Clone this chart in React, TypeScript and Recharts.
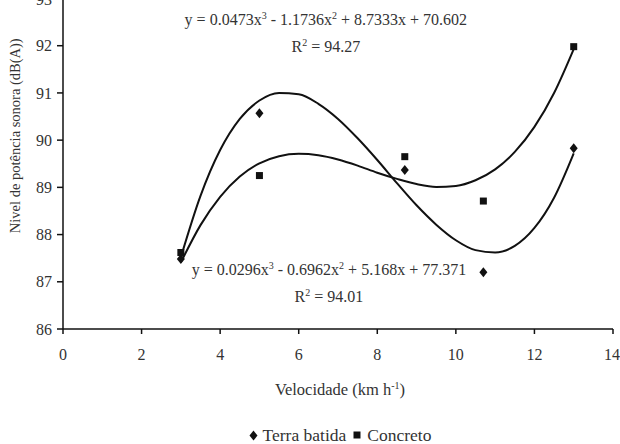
import React from "react";
import {
  ComposedChart,
  Line,
  Scatter,
  XAxis,
  YAxis,
  Legend,
  Label,
  ReferenceDot,
} from "recharts";

// velocidade (km h-1) x nível de potência sonora (dB(A))
const speed = [3, 5, 8.7, 10.7, 13];
const terraBatida = [87.48, 90.57, 89.37, 87.2, 89.83];
const concreto = [87.62, 89.25, 89.65, 88.71, 91.98];

// trend curves
const curveX = [3, 3.5, 4, 4.5, 5, 5.5, 6, 6.5, 7, 7.5, 8, 8.5, 9, 9.5, 10, 10.5, 11, 11.5, 12, 12.5, 13];
const terraFit = [87.52, 88.82, 89.79, 90.45, 90.84, 91.0, 90.97, 90.77, 90.45, 90.04, 89.58, 89.09, 88.62, 88.21, 87.88, 87.67, 87.62, 87.76, 88.14, 88.78, 89.72];
const concretoFit = [87.41, 88.2, 88.8, 89.23, 89.51, 89.66, 89.71, 89.68, 89.59, 89.46, 89.31, 89.18, 89.07, 89.01, 89.03, 89.15, 89.38, 89.75, 90.28, 91.0, 91.93];

const xTicks = [0, 2, 4, 6, 8, 10, 12, 14];
const yTicks = [86, 87, 88, 89, 90, 91, 92, 93];

const terraEq = ["y = 0.0473x", "3", " - 1.1736x", "2", " + 8.7333x + 70.602"];
const terraR2 = "94.27";
const concretoEq = ["y = 0.0296x", "3", " - 0.6962x", "2", " + 5.168x + 77.371"];
const concretoR2 = "94.01";

const FONT = "Liberation Serif, DejaVu Serif, serif";
const TEXT = "#333";
const INK = "#111";

const terraPts = speed.map((x, i) => ({ x, y: terraBatida[i] }));
const concretoPts = speed.map((x, i) => ({ x, y: concreto[i] }));
const terraCurve = curveX.map((x, i) => ({ x, y: terraFit[i] }));
const concretoCurve = curveX.map((x, i) => ({ x, y: concretoFit[i] }));

const diamond = (cx: number, cy: number) =>
  `M${cx},${cy - 5} L${cx + 4},${cy} L${cx},${cy + 5} L${cx - 4},${cy} Z`;

const Diamond = (p: any) => <path d={diamond(p.cx, p.cy)} fill={INK} />;
const Square = (p: any) => (
  <rect x={p.cx - 3.5} y={p.cy - 3.5} width={7} height={7} fill={INK} />
);

function equation(parts: string[], r2: string) {
  return (p: any) => {
    const vb = p.viewBox || {};
    const x = vb.x;
    const y = vb.y + 5;
    return (
      <g fill={TEXT} textAnchor="middle" style={{ fontFamily: FONT }}>
        <text x={x} y={y} fontSize={16} style={{ fontFamily: FONT }}>
          {parts[0]}
          <tspan dy={-6} fontSize={10}>{parts[1]}</tspan>
          <tspan dy={6}>{parts[2]}</tspan>
          <tspan dy={-6} fontSize={10}>{parts[3]}</tspan>
          <tspan dy={6}>{parts[4]}</tspan>
        </text>
        <text x={x} y={y + 27} fontSize={16} style={{ fontFamily: FONT }}>
          R<tspan dy={-6} fontSize={10}>2</tspan>
          <tspan dy={6}>{" = " + r2}</tspan>
        </text>
      </g>
    );
  };
}

const XTitle = (p: any) => {
  const vb = p.viewBox;
  return (
    <text
      x={vb.x + vb.width / 2 + 2}
      y={vb.y + 66}
      textAnchor="middle"
      style={{ fontFamily: FONT }}
      fontSize={16.5}
      fill={TEXT}
    >
      {"Velocidade (km h"}
      <tspan dy={-6} fontSize={10}>-1</tspan>
      <tspan dy={6}>)</tspan>
    </text>
  );
};

const YTitle = (p: any) => {
  const vb = p.viewBox;
  const x = vb.x + 15;
  const y = vb.y + vb.height / 2 - 28;
  return (
    <text
      x={x}
      y={y}
      transform={`rotate(-90, ${x}, ${y})`}
      textAnchor="middle"
      dominantBaseline="central"
      style={{ fontFamily: FONT }}
      fontSize={14.5}
      fill={TEXT}
    >
      Nivel de potência sonora (dB(A))
    </text>
  );
};

const LegendBox = () => (
  <div
    style={{
      display: "flex",
      justifyContent: "center",
      alignItems: "center",
      height: 22,
      paddingLeft: 67,
      position: "relative",
      top: 2,
      fontFamily: FONT,
      fontSize: 17.5,
      color: TEXT,
    }}
  >
    <svg width={9} height={11} style={{ marginRight: 5 }}>
      <path d={diamond(4.5, 5.5)} fill={INK} />
    </svg>
    <span>Terra batida</span>
    <svg width={8} height={8} style={{ marginLeft: 7, marginRight: 6 }}>
      <rect x={0.5} y={0.5} width={7} height={7} fill={INK} />
    </svg>
    <span>Concreto</span>
  </div>
);

const tickStyle = { fill: TEXT, fontSize: 16, style: { fontFamily: FONT } };

export default function App() {
  return (
    <div style={{ position: "absolute", left: 0, top: -10, fontFamily: FONT }}>
      <ComposedChart
        width={620}
        height={454}
        margin={{ top: 8.5, right: 7, bottom: 0, left: 0 }}
        style={{ fontFamily: FONT }}
      >
        <XAxis
          type="number"
          dataKey="x"
          domain={[0, 14]}
          ticks={xTicks}
          allowDataOverflow
          height={93}
          tickSize={5}
          tickMargin={15}
          stroke={INK}
          strokeWidth={1.5}
          tick={tickStyle}
        >
          <Label content={XTitle} />
        </XAxis>
        <YAxis
          type="number"
          dataKey="y"
          domain={[86, 93]}
          ticks={yTicks}
          allowDataOverflow
          width={63}
          tickSize={6}
          tickMargin={5}
          stroke={INK}
          strokeWidth={1.5}
          tick={tickStyle}
        >
          <Label content={YTitle} />
        </YAxis>
        <Legend verticalAlign="bottom" content={LegendBox} />
        <Line
          data={terraCurve}
          dataKey="y"
          type="monotone"
          stroke={INK}
          strokeWidth={2}
          dot={false}
          activeDot={false}
          legendType="none"
          isAnimationActive={false}
        />
        <Line
          data={concretoCurve}
          dataKey="y"
          type="monotone"
          stroke={INK}
          strokeWidth={2}
          dot={false}
          activeDot={false}
          legendType="none"
          isAnimationActive={false}
        />
        <Scatter
          name="Terra batida"
          data={terraPts}
          dataKey="y"
          shape={Diamond}
          isAnimationActive={false}
        />
        <Scatter
          name="Concreto"
          data={concretoPts}
          dataKey="y"
          shape={Square}
          isAnimationActive={false}
        />
        <ReferenceDot x={6.69} y={92.55} r={0} fill="none" stroke="none">
          <Label content={equation(terraEq, terraR2)} />
        </ReferenceDot>
        <ReferenceDot x={6.77} y={87.25} r={0} fill="none" stroke="none">
          <Label content={equation(concretoEq, concretoR2)} />
        </ReferenceDot>
      </ComposedChart>
    </div>
  );
}
